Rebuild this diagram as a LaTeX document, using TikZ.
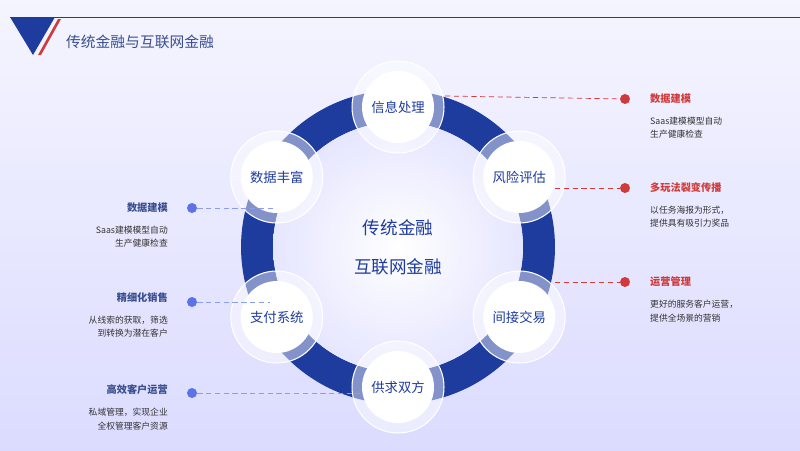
\documentclass[tikz,border=0pt]{standalone}
\usepackage{fontspec}
\setmainfont{Noto Sans CJK SC}
\usetikzlibrary{positioning}
\definecolor{deepblue}{HTML}{1E3C9E}
\definecolor{titleblue}{HTML}{3A4F8F}
\definecolor{accred}{HTML}{D13A3A}
\definecolor{accblue}{HTML}{5B72E8}
\definecolor{bodytext}{HTML}{333333}
\tikzset{
  sat/.style={circle, fill=white, minimum size=1.44cm, text=deepblue,
    font=\fontsize{7.6}{9}\selectfont},
  halo/.style={fill=white, fill opacity=0.45, draw=white, line width=0.6pt},
  reddot/.style={circle, fill=accred, minimum size=0.2cm, inner sep=0pt},
  bluedot/.style={circle, fill=accblue, minimum size=0.2cm, inner sep=0pt},
  link/.style={densely dashed, line width=0.4pt},
  head/.style={font=\fontsize{5.8}{7}\selectfont\bfseries},
  body/.style={font=\fontsize{5}{7.6}\selectfont, text=bodytext}
}
\begin{document}
\begin{tikzpicture}[x=0.02cm, y=-0.02cm]
  \useasboundingbox (0,0) rectangle (800,450);
  % background
  \shade[top color=blue!4, bottom color=blue!14] (0,0) rectangle (800,450);

  % header
  \fill[deepblue] (10,17) -- (55,17) -- (33,55) -- cycle;
  \fill[accred] (58,19) -- (61,19) -- (41,55) -- (38,55) -- cycle;
  \draw[deepblue, line width=0.5pt] (10,17) -- (800,17);
  \node[anchor=west, text=titleblue, font=\fontsize{8.4}{10}\selectfont] (title) at (60,42) {传统金融与互联网金融};

  % ring
  \fill[deepblue, even odd rule] (398,247) circle[radius=3.14cm] circle[radius=2.5cm];
  \shade[inner color=white, outer color=blue!10] (398,247) circle[radius=2.5cm];
  \node[text=deepblue, font=\fontsize{10}{12}\selectfont] (c1) at (398,228) {传统金融};
  \node[text=deepblue, font=\fontsize{10}{12}\selectfont] (c2) at (398,267) {互联网金融};

  % satellites
  \foreach \name/\ang/\txt in {info/90/信息处理, risk/30/风险评估, trade/-30/间接交易,
      supply/-90/供求双方, pay/-150/支付系统, data/150/数据丰富} {
    \fill[halo] ({398+140*cos(\ang)},{247-140*sin(\ang)}) circle[radius=0.92cm];
    \node[sat] (\name) at ({398+140*cos(\ang)},{247-140*sin(\ang)}) {\txt};
  }

  % right side
  \node[reddot] (r1) at (625,99) {};
  \node[reddot] (r2) at (625,188) {};
  \node[reddot] (r3) at (625,282) {};
  \coordinate (r1s) at (445,96);
  \coordinate (r2s) at (555,188);
  \coordinate (r3s) at (555,282);
  \draw[link, accred] (r1s) -- (r1);
  \draw[link, accred] (r2s) -- (r2);
  \draw[link, accred] (r3s) -- (r3);
  \node[head, anchor=west, text=accred] (rt1) at (644,99) {数据建模};
  \node[body, anchor=north west, align=left] at (644,111) {Saas建模模型自动\\生产健康检查};
  \node[head, anchor=west, text=accred] (rt2) at (644,188) {多玩法裂变传播};
  \node[body, anchor=north west, align=left] at (644,200) {以任务海报为形式，\\提供具有吸引力奖品};
  \node[head, anchor=west, text=accred] (rt3) at (644,282) {运营管理};
  \node[body, anchor=north west, align=left] at (644,294) {更好的服务客户运营，\\提供全场景的营销};

  % left side
  \node[bluedot] (l1) at (192,208) {};
  \node[bluedot] (l2) at (192,302) {};
  \node[bluedot] (l3) at (192,393) {};
  \coordinate (l1e) at (275,208);
  \coordinate (l2e) at (270,302);
  \coordinate (l3e) at (360,393);
  \draw[link, accblue!70] (l1) -- (l1e);
  \draw[link, accblue!70] (l2) -- (l2e);
  \draw[link, accblue!70] (l3) -- (l3e);
  \node[head, anchor=east, text=titleblue] (lt1) at (174,208) {数据建模};
  \node[body, anchor=north east, align=right] at (174,220) {Saas建模模型自动\\生产健康检查};
  \node[head, anchor=east, text=titleblue] (lt2) at (174,298) {精细化销售};
  \node[body, anchor=north east, align=right] at (174,310) {从线索的获取，筛选\\到转换为潜在客户};
  \node[head, anchor=east, text=titleblue] (lt3) at (174,390) {高效客户运营};
  \node[body, anchor=north east, align=right] at (174,402) {私域管理，实现企业\\全权管理客户资源};
\end{tikzpicture}
\end{document}
